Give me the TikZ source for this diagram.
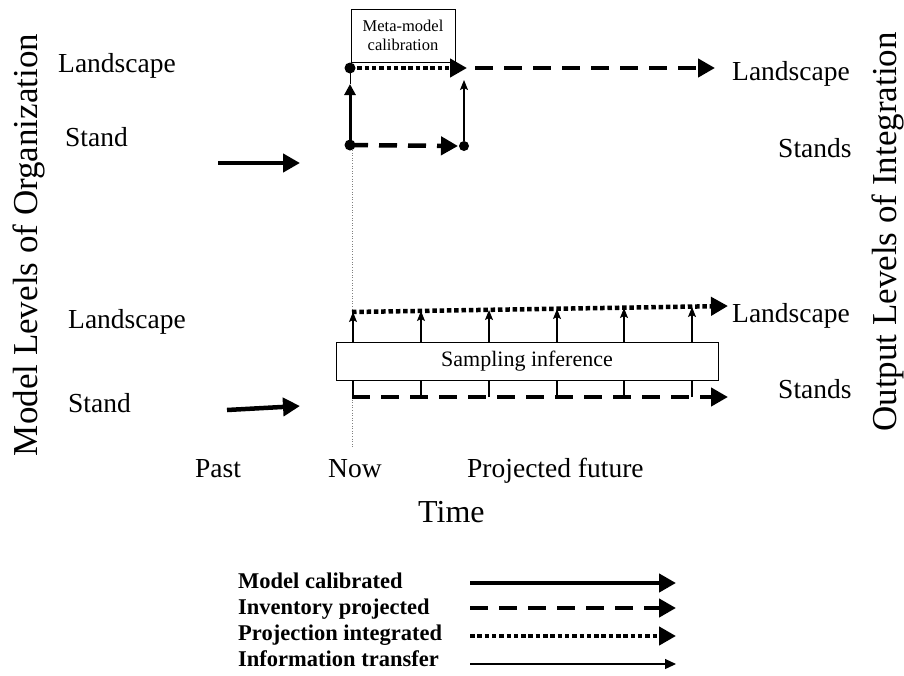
\documentclass[tikz,border=0pt]{standalone}
\usepackage{fontspec}
\setmainfont{Liberation Serif}
\usetikzlibrary{arrows.meta}
\usetikzlibrary{positioning}

\tikzset{
  bigtip/.style={-{Triangle[length=17pt,width=18pt]}},
  calib/.style={bigtip,line width=4.5pt},
  invent/.style={bigtip,line width=4.5pt,dash pattern=on 18pt off 11pt},
  integ/.style={bigtip,line width=4.5pt,dash pattern=on 4.5pt off 2.8pt},
  transf/.style={line width=1.2pt,-{Stealth[length=10pt,width=8pt,inset=2pt]}},
  lbl/.style={font=\fontsize{27.5}{30}\selectfont,inner sep=0pt,anchor=base west},
  axlbl/.style={font=\fontsize{35}{38}\selectfont,inner sep=0pt,anchor=base,rotate=90},
  leg/.style={font=\bfseries\fontsize{22.5}{24}\selectfont,inner sep=0pt,anchor=base west},
  dot/.style={circle,fill,inner sep=0pt,minimum size=11pt}
}

\begin{document}
\begin{tikzpicture}[line cap=butt,line join=miter,x=1pt,y=-1pt]
\useasboundingbox (0,0) rectangle (904,675);

% axis titles
\node[axlbl] (orgttl) at (37,245) {Model Levels of Organization};
\node[axlbl] (intttl) at (896,232) {Output Levels of Integration};

% level labels, left
\node[lbl] (lland1) at (58,72) {Landscape};
\node[lbl] (lstand1) at (65,146) {Stand};
\node[lbl] (lland2) at (68,328) {Landscape};
\node[lbl] (lstand2) at (68,412) {Stand};
% level labels, right
\node[lbl] (rland1) at (732,80) {Landscape};
\node[lbl] (rstand1) at (778,157) {Stands};
\node[lbl] (rland2) at (732,322) {Landscape};
\node[lbl] (rstand2) at (778,398) {Stands};

% time
\node[lbl] (past) at (195,477) {Past};
\node[lbl] (now) at (328,477) {Now};
\node[lbl] (future) at (467,477) {Projected future};
\node[font=\fontsize{32}{34}\selectfont,inner sep=0pt,anchor=base west] (time) at (418,522) {Time};

% now line
\coordinate (nowtop) at (352,150);
\coordinate (nowbot) at (352,448);
\draw[gray,line width=0.6pt,dotted] (nowtop) -- (nowbot);

% past inputs
\coordinate (pin1) at (218,163);
\coordinate (pout1) at (300,163);
\coordinate (pin2) at (227,410);
\coordinate (pout2) at (300,406);
\draw[calib] (pin1) -- (pout1);
\draw[calib] (pin2) -- (pout2);

% upper scheme: meta-model calibration
\node[draw,line width=0.8pt,minimum width=104pt,minimum height=53pt,inner sep=0pt,
      align=center,font=\fontsize{16.5}{19}\selectfont] (meta) at (403,35.5) {Meta-model\\calibration};
\node[dot] (ln) at (350,68) {};
\node[dot] (sn) at (350,145) {};
\node[dot,minimum size=10pt] (se) at (464,146) {};
\coordinate (lnin) at (350,84);
\coordinate (lnend) at (467,68);
\coordinate (lnout) at (475,68);
\coordinate (lnfar) at (715,68);
\coordinate (sein) at (458,146);
\coordinate (seup) at (464,80);
\draw[line width=3pt,-{Triangle[length=11pt,width=11pt]}] (sn.center) -- (lnin);
\draw[line width=0.6pt] (lnin) -- (ln.center);
\draw[invent] (sn.center) -- (sein);
\draw[transf] (se) -- (seup);
\draw[integ] (ln.center) -- (lnend);
\draw[invent] (lnout) -- (lnfar);

% lower scheme: sampling inference
\coordinate (dl) at (352,312);
\coordinate (dr) at (728,306);
\coordinate (sl) at (352,397);
\coordinate (sr) at (728,397);
\draw[integ] (dl) -- (dr);
\draw[invent] (sl) -- (sr);
\foreach \x/\y [count=\i] in {353/312,421/311,489/310,557/309,624/308,692/307}{
  \coordinate (lo\i) at (\x,397);
  \coordinate (hi\i) at (\x,\y);
  \draw[transf] (lo\i) -- (hi\i);
}
\node[draw,fill=white,line width=0.8pt,minimum width=382pt,minimum height=38pt,inner sep=0pt,
      font=\fontsize{22}{24}\selectfont] (sampling) at (527,361) {Sampling inference};

% legend
\node[leg] (k1) at (238,588) {Model calibrated};
\node[leg] (k2) at (238,614) {Inventory projected};
\node[leg] (k3) at (238,640) {Projection integrated};
\node[leg] (k4) at (238,666) {Information transfer};
\foreach \n/\y in {1/583,2/608,3/636,4/664}{
  \coordinate (ka\n) at (470,\y);
  \coordinate (kb\n) at (676,\y);
}
\draw[calib] (ka1) -- (kb1);
\draw[invent] (ka2) -- (kb2);
\draw[integ] (ka3) -- (kb3);
\draw[line width=1.2pt,-{Triangle[length=11pt,width=10pt]}] (ka4) -- (kb4);
\end{tikzpicture}
\end{document}
